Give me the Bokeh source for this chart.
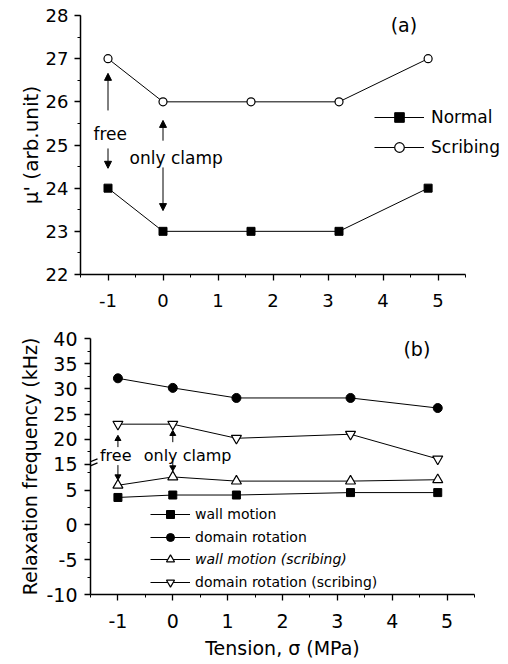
from bokeh.plotting import figure
from bokeh.layouts import column
from bokeh.models import (Range1d, FixedTicker, SingleIntervalTicker, Legend, LegendItem,
                          Arrow, NormalHead, Label)
from bokeh.core.properties import value
from bokeh.embed import file_html
from bokeh.resources import INLINE

FONT = "DejaVu Sans"

# ---------------- data: panel (a) ----------------
x_a = [-1, 0, 1.6, 3.2, 4.82]
normal = [24, 23, 23, 23, 24]
scribing = [27, 26, 26, 26, 27]

# ---------------- data: panel (b) ----------------
x_b = [-1, 0, 1.16, 3.24, 4.83]
wall = [3.95, 4.3, 4.3, 4.65, 4.65]
domain = [32.1, 30.2, 28.2, 28.2, 26.2]
wall_s = [5.7, 6.9, 6.3, 6.3, 6.5]
domain_s = [23.0, 23.0, 20.2, 21.0, 16.1]
b_upper_ticks = [15, 20, 25, 30, 35, 40]
b_upper_minor = [17.5, 22.5, 27.5, 32.5, 37.5]
b_lower_ticks = [-10, -5, 0, 5]
b_lower_minor = [-7.5, -2.5, 2.5, 7.5]
x_neg_labels = {-1: "-1"}

# broken y axis of panel (b)
UP_LO, UP_HI = 14.6, 40.0
LO_LO, LO_HI = -10.0, 8.4
SPLIT = 0.5


def style_axis(ax, size):
    ax.axis_line_width = 1.5
    ax.axis_line_color = "black"
    ax.major_tick_line_color = "black"
    ax.minor_tick_line_color = "black"
    ax.major_tick_line_width = 1.3
    ax.major_tick_out = 6
    ax.major_tick_in = 0
    ax.minor_tick_out = 3
    ax.minor_tick_in = 0
    ax.major_label_text_font = FONT
    ax.major_label_text_font_size = size
    ax.major_label_text_color = "black"
    ax.axis_label_text_font = FONT
    ax.axis_label_text_font_style = "normal"
    ax.axis_label_text_color = "black"


# ================= panel (a) =================
pa = figure(width=508, height=312, output_backend="svg", toolbar_location=None,
            x_range=Range1d(-1.5, 6.245), y_range=Range1d(22, 28), frame_align=False,
            min_border_left=80, min_border_right=2, min_border_top=15, min_border_bottom=38)
pa.outline_line_color = None
pa.grid.visible = False
pa.xaxis.ticker = SingleIntervalTicker(interval=1, num_minor_ticks=2)
pa.yaxis.ticker = SingleIntervalTicker(interval=1, num_minor_ticks=2)
pa.xaxis.bounds = (-1.5, 5.5)
style_axis(pa.xaxis[0], "18px")
style_axis(pa.yaxis[0], "18px")
pa.xaxis.major_label_overrides = x_neg_labels
pa.xaxis.major_label_standoff = 13
pa.yaxis.major_label_standoff = 6
pa.yaxis.axis_label = "\u03bc' (arb.unit)"
pa.yaxis.axis_label_text_font_size = "20px"
pa.yaxis.axis_label_standoff = 0

ln_n = pa.line(x_a, normal, line_color="black", line_width=1)
mk_n = pa.scatter(x_a, normal, marker="square", size=8, fill_color="black", line_color="black")
ln_s = pa.line(x_a, scribing, line_color="black", line_width=1)
mk_s = pa.scatter(x_a, scribing, marker="circle", size=8, fill_color="white", line_color="black",
                  line_width=1.2)

leg_a = Legend(items=[LegendItem(label="Normal", renderers=[ln_n, mk_n]),
                      LegendItem(label="Scribing", renderers=[ln_s, mk_s])],
               location=(294, 115), glyph_width=50, glyph_height=24, label_height=24,
               label_standoff=7, spacing=6, padding=0, margin=0,
               border_line_color=None, background_fill_alpha=0,
               label_text_font=FONT, label_text_font_size="17px", label_text_color="black")
pa.add_layout(leg_a)


def head():
    return NormalHead(size=7, fill_color="black", line_color="black", line_width=1)


for xs, y0, y1 in [(-1, 25.8, 26.66), (-1, 24.92, 24.46), (0, 25.1, 25.57), (0, 24.48, 23.48)]:
    pa.add_layout(Arrow(end=head(), x_start=xs, y_start=y0, x_end=xs, y_end=y1,
                        line_color="black", line_width=1))

for txt, xx, yy in [("free", -0.96, 25.26), ("only clamp", 0.24, 24.69)]:
    pa.add_layout(Label(x=xx, y=yy, text=txt, text_align="center", text_baseline="middle",
                        text_font=FONT, text_font_size="17px", text_color="black"))
pa.add_layout(Label(x=4.38, y=27.79, text="(a)", text_align="center", text_baseline="middle",
                    text_font=FONT, text_font_size="19px", text_color="black"))

# ================= panel (b) =================
pb = figure(width=508, height=349, output_backend="svg", toolbar_location=None,
            x_range=Range1d(-1.5, 5.5), y_range=Range1d(0, 1), frame_align=False,
            min_border_left=90, min_border_right=34, min_border_top=26, min_border_bottom=64)
pb.outline_line_color = None
pb.grid.visible = False

up = pb.subplot(x_source=pb.x_range, y_source=Range1d(UP_LO, UP_HI),
                x_target=pb.x_range, y_target=Range1d(SPLIT, 1))
lo = pb.subplot(x_source=pb.x_range, y_source=Range1d(LO_LO, LO_HI),
                x_target=pb.x_range, y_target=Range1d(0, SPLIT))


def up_pos(v):
    return SPLIT + (v - UP_LO) / (UP_HI - UP_LO) * (1 - SPLIT)


def lo_pos(v):
    return (v - LO_LO) / (LO_HI - LO_LO) * SPLIT


ticks = [lo_pos(v) for v in b_lower_ticks] + [up_pos(v) for v in b_upper_ticks]
minor = [lo_pos(v) for v in b_lower_minor] + [up_pos(v) for v in b_upper_minor]
labels = [str(v) for v in b_lower_ticks + b_upper_ticks]
pb.yaxis.ticker = FixedTicker(ticks=ticks, minor_ticks=minor)
pb.yaxis.major_label_overrides = {t: l for t, l in zip(ticks, labels)}
pb.xaxis.ticker = SingleIntervalTicker(interval=1, num_minor_ticks=2)
style_axis(pb.xaxis[0], "19px")
style_axis(pb.yaxis[0], "19px")
pb.xaxis.major_label_overrides = x_neg_labels
pb.yaxis.major_label_standoff = 7
pb.xaxis.major_label_standoff = 13
pb.yaxis.axis_label = "Relaxation frequency (kHz)"
pb.yaxis.axis_label_text_font_size = "19px"
pb.yaxis.axis_label_standoff = 2
pb.xaxis.axis_label = "Tension, \u03c3 (MPa)"
pb.xaxis.axis_label_text_font_size = "19px"
pb.xaxis.axis_label_standoff = 6

l_w = lo.line(x_b, wall, line_color="black", line_width=1)
m_w = lo.scatter(x_b, wall, marker="square", size=8, fill_color="black", line_color="black")
l_d = up.line(x_b, domain, line_color="black", line_width=1)
m_d = up.scatter(x_b, domain, marker="circle", size=9, fill_color="black", line_color="black")
l_ws = lo.line(x_b, wall_s, line_color="black", line_width=1)
m_ws = lo.scatter(x_b, wall_s, marker="triangle", size=10, fill_color="white", line_color="black",
                  line_width=1.2)
l_ds = up.line(x_b, domain_s, line_color="black", line_width=1)
m_ds = up.scatter(x_b, domain_s, marker="inverted_triangle", size=10, fill_color="white",
                  line_color="black", line_width=1.2)


def mk_legend(items, loc, style):
    return Legend(items=items, location=loc, glyph_width=40, glyph_height=20, label_height=20,
                  label_standoff=5, spacing=3, padding=0, margin=0,
                  border_line_color=None, background_fill_alpha=0,
                  label_text_font=FONT, label_text_font_size="14px",
                  label_text_font_style=style, label_text_color="black")


pb.add_layout(mk_legend([LegendItem(label="wall motion", renderers=[l_w, m_w]),
                         LegendItem(label="domain rotation", renderers=[l_d, m_d])],
                        (60, 47), "normal"))
pb.add_layout(mk_legend([LegendItem(label="wall motion (scribing)", renderers=[l_ws, m_ws])],
                        (60, 25), "italic"))
pb.add_layout(mk_legend([LegendItem(label="domain rotation (scribing)", renderers=[l_ds, m_ds])],
                        (60, 2), "normal"))

# arrows in panel (b): shafts and heads drawn through the sub-coordinates
up.segment(x0=[-1, 0], y0=[18.45, 19.43], x1=[-1, 0], y1=[20.2, 21.2], line_color="black", line_width=1)
up.scatter([-1, 0], [20.1, 21.1], marker="triangle", size=6, fill_color="black", line_color="black")
lo.segment(x0=[-1, 0], y0=[8.6, 9.3], x1=[-1, 0], y1=[6.9, 8.2], line_color="black", line_width=1)
lo.scatter([-1, 0], [6.95, 8.25], marker="inverted_triangle", size=6, fill_color="black", line_color="black")

up.text(x=[-1.04, 0.27], y=[16.7, 16.7], text=["free", "only clamp"], text_align="center",
        text_baseline="middle", text_font=value(FONT), text_font_size="16px", text_color="black")
up.text(x=[4.45], y=[38.0], text=["(b)"], text_align="center", text_baseline="middle",
        text_font=value(FONT), text_font_size="19px", text_color="black")

# break marks on the y axis
for y0, y1 in [(0.49, 0.514), (0.506, 0.53)]:
    pb.add_layout(Arrow(end=None, x_start=-1.646, y_start=y0, x_end=-1.372, y_end=y1,
                        line_color="black", line_width=1.3))

layout = column(pa, pb)
open("out.html", "w").write(file_html(layout, INLINE))
